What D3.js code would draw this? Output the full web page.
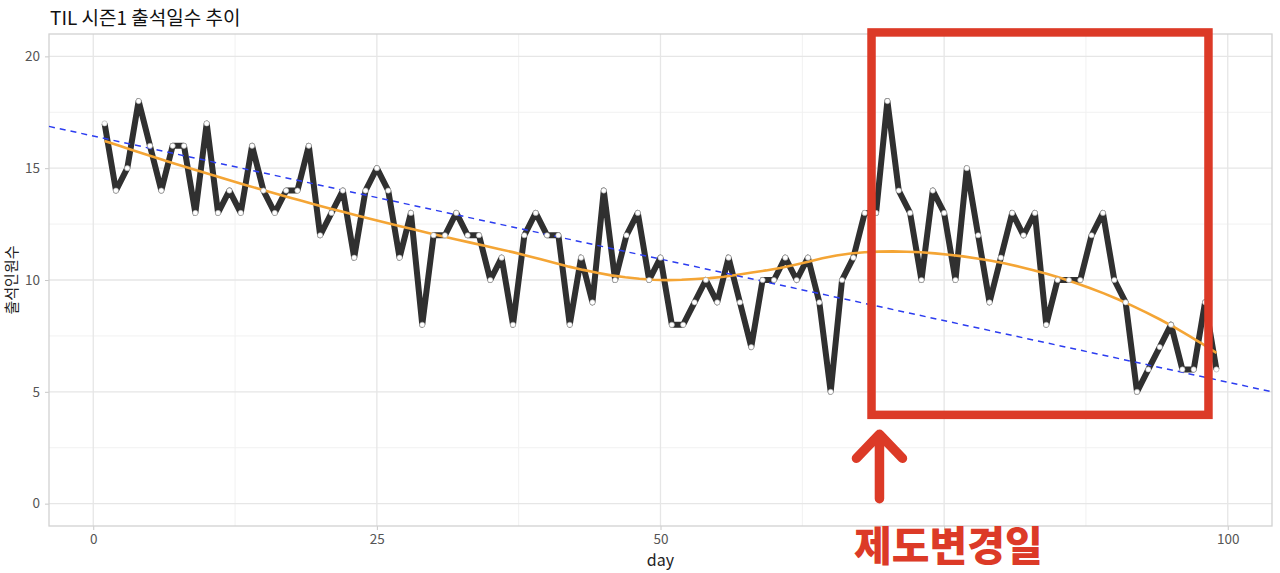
<!DOCTYPE html>
<html>
<head>
<meta charset="utf-8">
<script src="https://cdn.jsdelivr.net/npm/d3@7"></script>
<style>
  body { margin: 0; background: #fff; }
  text { font-family: "Noto Sans CJK KR", "Noto Sans", sans-serif; }
</style>
</head>
<body>
<script>
// daily attendance counts, day 1..99
const days = d3.range(1, 100);
const attendance = [
  17, 14, 15, 18, 16, 14, 16, 16, 13, 17,
  13, 14, 13, 16, 14, 13, 14, 14, 16, 12,
  13, 14, 11, 14, 15, 14, 11, 13, 8, 12,
  12, 13, 12, 12, 10, 11, 8, 12, 13, 12,
  12, 8, 11, 9, 14, 10, 12, 13, 10, 11,
  8, 8, 9, 10, 9, 11, 9, 7, 10, 10,
  11, 10, 11, 9, 5, 10, 11, 13, 13, 18,
  14, 13, 10, 14, 13, 10, 15, 12, 9, 11,
  13, 12, 13, 8, 10, 10, 10, 12, 13, 10,
  9, 5, 6, 7, 8, 6, 6, 9, 6
];
const xTicks = [0, 25, 50, 75, 100];
const xTickLabels = ["0", "25", "50", "", "100"]; // 75 sits under the note in the original
const xMinor = [12.5, 37.5, 62.5, 87.5];
const yTicks = [0, 5, 10, 15, 20];
const yMinor = [2.5, 7.5, 12.5, 17.5];
const titleText = "TIL 시즌1 출석일수 추이";
const xLabel = "day";
const yLabel = "출석인원수";
const noteText = "제도변경일";
// dashed trend line as drawn in the original (intercept, slope)
const trendIntercept = 16.44;
const trendSlope = -0.1101;
// highlighted region (day range, value range) and arrow position
const boxDays = [68.6, 98.3];
const boxVals = [3.97, 21.07];
const arrowDay = 69.3;
const arrowVals = [3.1, 0.22];

const W = 1280, H = 573;
const panel = {left: 49, right: 1272, top: 34, bottom: 526};

const data = days.map((d, i) => ({day: d, n: attendance[i]}));

const svg = d3.select("body").append("svg")
  .attr("width", W)
  .attr("height", H);

const xScale = d3.scaleLinear()
  .domain([-3.9, 103.9])
  .range([panel.left, panel.right]);
const yScale = d3.scaleLinear()
  .domain([-1, 21])
  .range([panel.bottom, panel.top]);

// grid lines
const grid = svg.append("g");
grid.selectAll(".xminor").data(xMinor).enter().append("line")
  .attr("x1", d => xScale(d)).attr("x2", d => xScale(d))
  .attr("y1", panel.top).attr("y2", panel.bottom)
  .attr("stroke", "#f1f1f1").attr("stroke-width", 1);
grid.selectAll(".yminor").data(yMinor).enter().append("line")
  .attr("y1", d => yScale(d)).attr("y2", d => yScale(d))
  .attr("x1", panel.left).attr("x2", panel.right)
  .attr("stroke", "#f1f1f1").attr("stroke-width", 1);
grid.selectAll(".xmajor").data(xTicks).enter().append("line")
  .attr("x1", d => xScale(d)).attr("x2", d => xScale(d))
  .attr("y1", panel.top).attr("y2", panel.bottom)
  .attr("stroke", "#e6e6e6").attr("stroke-width", 1.3);
grid.selectAll(".ymajor").data(yTicks).enter().append("line")
  .attr("y1", d => yScale(d)).attr("y2", d => yScale(d))
  .attr("x1", panel.left).attr("x2", panel.right)
  .attr("stroke", "#e6e6e6").attr("stroke-width", 1.3);

// axes
const xAxis = svg.append("g")
  .attr("transform", "translate(0," + panel.bottom + ")")
  .call(d3.axisBottom(xScale).tickValues(xTicks)
    .tickFormat((d, i) => xTickLabels[i]).tickSize(4).tickPadding(4));
const yAxis = svg.append("g")
  .attr("transform", "translate(" + panel.left + ",0)")
  .call(d3.axisLeft(yScale).tickValues(yTicks).tickSize(4).tickPadding(5));
[xAxis, yAxis].forEach(ax => {
  ax.select(".domain").remove();
  ax.selectAll(".tick line").attr("stroke", "#c8c8c8");
  ax.selectAll(".tick text")
    .attr("fill", "#555")
    .style("font-size", "13.5px")
    .style("font-family", "\"Noto Sans CJK KR\", sans-serif");
});

// panel border
svg.append("rect")
  .attr("x", panel.left).attr("y", panel.top)
  .attr("width", panel.right - panel.left)
  .attr("height", panel.bottom - panel.top)
  .attr("fill", "none")
  .attr("stroke", "#d2d2d2")
  .attr("stroke-width", 1.3);

// attendance line
const line = d3.line().x(d => xScale(d.day)).y(d => yScale(d.n));
svg.append("path")
  .datum(data)
  .attr("d", line)
  .attr("fill", "none")
  .attr("stroke", "#303030")
  .attr("stroke-width", 6)
  .attr("stroke-linejoin", "round");

// loess smoother (span 0.75, degree 2, tricube weights)
function loess(xs, ys, span, x0) {
  const n = xs.length;
  const q = Math.floor(n * span);
  const dist = xs.map(x => Math.abs(x - x0));
  const dmax = dist.slice().sort((a, b) => a - b)[q - 1];
  let s = [0, 0, 0, 0, 0], t = [0, 0, 0];
  for (let i = 0; i < n; i++) {
    const u = dist[i] / dmax;
    if (u >= 1) continue;
    const w = Math.pow(1 - u * u * u, 3);
    const dx = xs[i] - x0;
    for (let k = 0; k < 5; k++) s[k] += w * Math.pow(dx, k);
    for (let k = 0; k < 3; k++) t[k] += w * ys[i] * Math.pow(dx, k);
  }
  // solve 3x3 normal equations, intercept is the fit at x0
  const det = m => m[0][0] * (m[1][1] * m[2][2] - m[1][2] * m[2][1])
    - m[0][1] * (m[1][0] * m[2][2] - m[1][2] * m[2][0])
    + m[0][2] * (m[1][0] * m[2][1] - m[1][1] * m[2][0]);
  const A = [[s[0], s[1], s[2]], [s[1], s[2], s[3]], [s[2], s[3], s[4]]];
  const A0 = [[t[0], s[1], s[2]], [t[1], s[2], s[3]], [t[2], s[3], s[4]]];
  return det(A0) / det(A);
}
const smoothX = d3.range(0, 80).map(i => 1 + i * 98 / 79);
const smooth = smoothX.map(x => ({day: x, n: loess(days, attendance, 0.75, x)}));
svg.append("path")
  .datum(smooth)
  .attr("d", line)
  .attr("fill", "none")
  .attr("stroke", "#f4a535")
  .attr("stroke-width", 2.6);

// dashed trend across the whole panel
const xd = xScale.domain();
svg.append("line")
  .attr("x1", xScale(xd[0])).attr("y1", yScale(trendIntercept + trendSlope * xd[0]))
  .attr("x2", xScale(xd[1])).attr("y2", yScale(trendIntercept + trendSlope * xd[1]))
  .attr("stroke", "#2b3cf0")
  .attr("stroke-width", 1.5)
  .attr("stroke-dasharray", "6,5");

// points
svg.selectAll(".dot").data(data).enter().append("circle")
  .attr("cx", d => xScale(d.day))
  .attr("cy", d => yScale(d.n))
  .attr("r", 2.6)
  .attr("fill", "#fff")
  .attr("stroke", "#aaa")
  .attr("stroke-width", 0.6);

// labels
svg.append("text")
  .attr("x", 50).attr("y", 25)
  .style("font-size", "19px")
  .attr("fill", "#111")
  .text(titleText);
svg.append("text")
  .attr("x", (panel.left + panel.right) / 2).attr("y", 566)
  .attr("text-anchor", "middle")
  .style("font-size", "16px")
  .attr("fill", "#222")
  .text(xLabel);
svg.append("text")
  .attr("transform", "translate(17," + ((panel.top + panel.bottom) / 2) + ") rotate(-90)")
  .attr("text-anchor", "middle")
  .style("font-size", "15px")
  .attr("fill", "#222")
  .text(yLabel);

// annotation: red box, arrow and note
const red = "#dc3a27";
svg.append("rect")
  .attr("x", xScale(boxDays[0]))
  .attr("y", yScale(boxVals[1]))
  .attr("width", xScale(boxDays[1]) - xScale(boxDays[0]))
  .attr("height", yScale(boxVals[0]) - yScale(boxVals[1]))
  .attr("fill", "none")
  .attr("stroke", red)
  .attr("stroke-width", 8.5);

const ax = xScale(arrowDay), ayTop = yScale(arrowVals[0]), ayBot = yScale(arrowVals[1]);
svg.append("path")
  .attr("d", "M" + ax + "," + ayBot + "L" + ax + "," + ayTop +
    "M" + (ax - 23) + "," + (ayTop + 24) + "L" + ax + "," + ayTop + "L" + (ax + 23) + "," + (ayTop + 24))
  .attr("fill", "none")
  .attr("stroke", red)
  .attr("stroke-width", 9.5)
  .attr("stroke-linecap", "round")
  .attr("stroke-linejoin", "round");

svg.append("text")
  .attr("x", 854).attr("y", 561)
  .style("font-size", "41px")
  .style("font-weight", "900")
  .attr("fill", red)
  .text(noteText);
</script>
</body>
</html>
